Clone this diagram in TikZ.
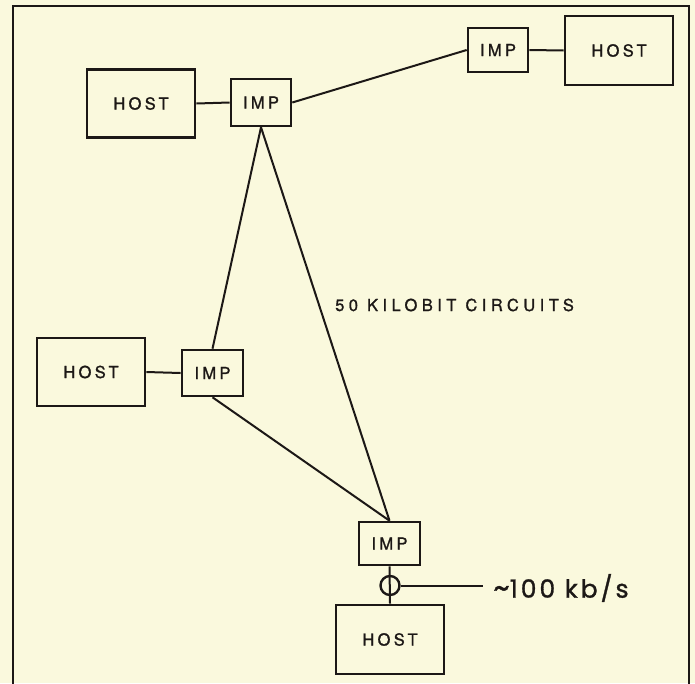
\documentclass[tikz,border=0pt]{standalone}
\usepackage{fontspec}
\setmainfont{TeX Gyre Heros}
\newfontfamily\lettering[LetterSpace=20,FakeBold=1.2]{TeX Gyre Heros}
\newfontfamily\widelettering[LetterSpace=27,FakeBold=1.2]{TeX Gyre Heros}
\newfontfamily\rateface[LetterSpace=12,FakeBold=1.2]{Poppins}
\definecolor{paper}{RGB}{250,249,221}
\definecolor{ink}{RGB}{28,24,22}
\tikzset{
  box/.style={draw=ink, line width=2.6pt, fill=paper, inner sep=0pt,
    font=\lettering\fontsize{16.5}{18}\selectfont, text=ink},
  hostbox/.style={box, minimum width=108pt, minimum height=68pt},
  impbox/.style={box, minimum width=60pt, minimum height=45pt},
  link/.style={draw=ink, line width=2pt},
  frame/.style={draw=ink, line width=2.2pt},
}
\begin{document}
\begin{tikzpicture}[x=1pt, y=-1pt]
  \clip (0,0) rectangle (695,683);
  \fill[paper] (0,0) rectangle (695,683);
  % outer border, open at the bottom edge
  \draw[frame] (13,690) -- (13,6) -- (689,6) -- (689,690);

  % hosts and interface message processors
  \node[hostbox] (host1) at (141,103.5) {HOST};
  \node[impbox, minimum height=47pt] (imp1) at (261,102.5) {IMP};
  \node[impbox, minimum height=44pt] (imp2) at (498,50) {IMP};
  \node[hostbox, minimum height=69pt] (host2) at (619,50.5) {HOST};
  \node[hostbox] (host3) at (91,372) {HOST};
  \node[impbox, minimum width=61pt, minimum height=46pt] (imp3) at (212.5,373) {IMP};
  \node[impbox, minimum width=61pt, minimum height=43pt] (imp4) at (389.5,543.5) {IMP};
  \node[hostbox, minimum height=69pt] (host4) at (390,639.5) {HOST};

  % measurement point on the host line
  \node[circle, draw=ink, line width=2.4pt, minimum size=19pt, inner sep=0pt] (tap) at (390,585.5) {};
  \coordinate (tapend) at (483,585.5);

  % host connections
  \draw[link] (host1.east) -- (imp1.west);
  \draw[link] (imp2.east) -- (host2.west);
  \draw[link] (host3.east) -- (imp3.west);
  \draw[link] (imp4.south) -- (host4.north);
  \draw[link] (tap.east) -- (tapend);

  % trunk circuits between the IMPs
  \draw[link] (imp1.east) -- (imp2.west);
  \draw[link] (imp1.south) -- (imp3.north);
  \draw[link] (imp1.south) -- (imp4.north);
  \draw[link] (imp3.south) -- (imp4.north);

  % labels
  \node[anchor=west, inner sep=0pt, text=ink, font=\widelettering\fontsize{16.5}{18}\selectfont] (circuits) at (335,305) {50 KILOBIT CIRCUITS};
  \node[anchor=west, inner sep=0pt, text=ink, font=\rateface\fontsize{25}{27}\selectfont] (rate) at (493,588) {{\fontsize{32}{32}\selectfont\raisebox{-1pt}{\textasciitilde}}100 kb/s};
\end{tikzpicture}
\end{document}
